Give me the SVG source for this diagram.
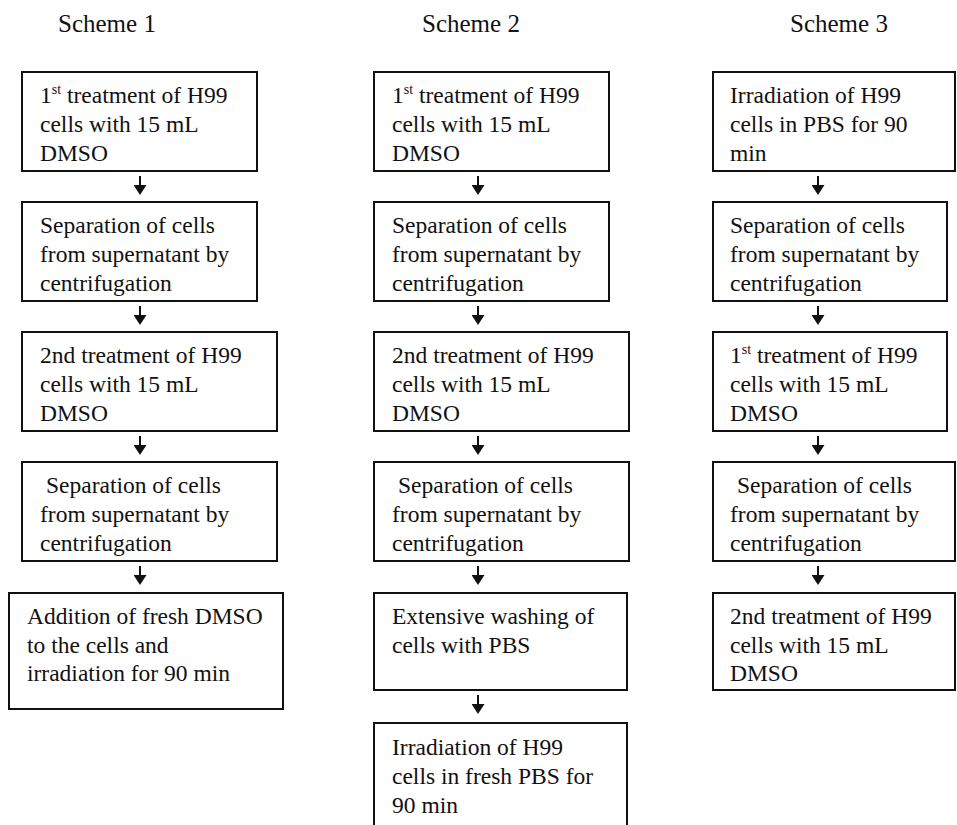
<svg xmlns="http://www.w3.org/2000/svg" width="957" height="825" viewBox="0 0 957 825">
<style>
.bg{fill:#fff}
.box{fill:#fff;stroke:#111;stroke-width:2}
.t{font-family:"Liberation Serif","Times New Roman",serif;font-size:23.5px;fill:#111}
.title{font-family:"Liberation Serif","Times New Roman",serif;font-size:25px;fill:#111}
.sup{font-size:14px}
.conn line{stroke:#111;stroke-width:2}
</style>
<defs>
<marker id="ah" markerUnits="userSpaceOnUse" viewBox="0 0 10 13" markerWidth="10" markerHeight="13" refX="1" refY="6.5" orient="auto">
<path d="M0,0 L10,6.5 L0,13 z" fill="#111"/>
</marker>
</defs>
<rect class="bg" x="0" y="0" width="957" height="825"/>

<g id="titles">
<text class="title" x="58" y="32">Scheme 1</text>
<text class="title" x="422" y="32">Scheme 2</text>
<text class="title" x="790" y="32">Scheme 3</text>
</g>

<!-- Scheme 1 -->
<g id="s1n1">
<rect class="box" x="22" y="72" width="235" height="99"/>
<text class="t" x="40" y="103">1<tspan class="sup" dy="-9">st</tspan><tspan dy="9"> treatment of H99</tspan></text>
<text class="t" x="40" y="132">cells with 15 mL</text>
<text class="t" x="40" y="161">DMSO</text>
</g>
<g id="s1n2">
<rect class="box" x="22" y="202" width="235" height="99"/>
<text class="t" x="40" y="233">Separation of cells</text>
<text class="t" x="40" y="262">from supernatant by</text>
<text class="t" x="40" y="291">centrifugation</text>
</g>
<g id="s1n3">
<rect class="box" x="22" y="332" width="255" height="99"/>
<text class="t" x="40" y="363">2nd treatment of H99</text>
<text class="t" x="40" y="392">cells with 15 mL</text>
<text class="t" x="40" y="421">DMSO</text>
</g>
<g id="s1n4">
<rect class="box" x="22" y="462" width="255" height="99"/>
<text class="t" x="46" y="493">Separation of cells</text>
<text class="t" x="40" y="522">from supernatant by</text>
<text class="t" x="40" y="551">centrifugation</text>
</g>
<g id="s1n5">
<rect class="box" x="9" y="593" width="274" height="116"/>
<text class="t" x="27" y="624">Addition of fresh DMSO</text>
<text class="t" x="27" y="653">to the cells and</text>
<text class="t" x="27" y="681">irradiation for 90 min</text>
</g>

<!-- Scheme 2 -->
<g id="s2n1">
<rect class="box" x="374" y="72" width="235" height="99"/>
<text class="t" x="392" y="103">1<tspan class="sup" dy="-9">st</tspan><tspan dy="9"> treatment of H99</tspan></text>
<text class="t" x="392" y="132">cells with 15 mL</text>
<text class="t" x="392" y="161">DMSO</text>
</g>
<g id="s2n2">
<rect class="box" x="374" y="202" width="235" height="99"/>
<text class="t" x="392" y="233">Separation of cells</text>
<text class="t" x="392" y="262">from supernatant by</text>
<text class="t" x="392" y="291">centrifugation</text>
</g>
<g id="s2n3">
<rect class="box" x="374" y="332" width="255" height="99"/>
<text class="t" x="392" y="363">2nd treatment of H99</text>
<text class="t" x="392" y="392">cells with 15 mL</text>
<text class="t" x="392" y="421">DMSO</text>
</g>
<g id="s2n4">
<rect class="box" x="374" y="462" width="255" height="99"/>
<text class="t" x="398" y="493">Separation of cells</text>
<text class="t" x="392" y="522">from supernatant by</text>
<text class="t" x="392" y="551">centrifugation</text>
</g>
<g id="s2n5">
<rect class="box" x="374" y="593" width="253" height="97"/>
<text class="t" x="392" y="624">Extensive washing of</text>
<text class="t" x="392" y="653">cells with PBS</text>
</g>
<g id="s2n6">
<rect class="box" x="374" y="723" width="253" height="110"/>
<text class="t" x="392" y="755">Irradiation of H99</text>
<text class="t" x="392" y="784">cells in fresh PBS for</text>
<text class="t" x="392" y="813">90 min</text>
</g>

<!-- Scheme 3 -->
<g id="s3n1">
<rect class="box" x="713" y="72" width="242" height="99"/>
<text class="t" x="730" y="103">Irradiation of H99</text>
<text class="t" x="730" y="132">cells in PBS for 90</text>
<text class="t" x="730" y="161">min</text>
</g>
<g id="s3n2">
<rect class="box" x="713" y="202" width="234" height="99"/>
<text class="t" x="730" y="233">Separation of cells</text>
<text class="t" x="730" y="262">from supernatant by</text>
<text class="t" x="730" y="291">centrifugation</text>
</g>
<g id="s3n3">
<rect class="box" x="713" y="332" width="234" height="99"/>
<text class="t" x="730" y="363">1<tspan class="sup" dy="-9">st</tspan><tspan dy="9"> treatment of H99</tspan></text>
<text class="t" x="730" y="392">cells with 15 mL</text>
<text class="t" x="730" y="421">DMSO</text>
</g>
<g id="s3n4">
<rect class="box" x="713" y="462" width="242" height="99"/>
<text class="t" x="737" y="493">Separation of cells</text>
<text class="t" x="730" y="522">from supernatant by</text>
<text class="t" x="730" y="551">centrifugation</text>
</g>
<g id="s3n5">
<rect class="box" x="713" y="593" width="242" height="97"/>
<text class="t" x="730" y="624">2nd treatment of H99</text>
<text class="t" x="730" y="653">cells with 15 mL</text>
<text class="t" x="730" y="681">DMSO</text>
</g>

<g id="connectors" class="conn">
<line x1="140" y1="176" x2="140" y2="186" marker-end="url(#ah)"/>
<line x1="140" y1="306" x2="140" y2="316" marker-end="url(#ah)"/>
<line x1="140" y1="436" x2="140" y2="446" marker-end="url(#ah)"/>
<line x1="140" y1="566" x2="140" y2="576" marker-end="url(#ah)"/>

<line x1="478" y1="176" x2="478" y2="186" marker-end="url(#ah)"/>
<line x1="478" y1="306" x2="478" y2="316" marker-end="url(#ah)"/>
<line x1="478" y1="436" x2="478" y2="446" marker-end="url(#ah)"/>
<line x1="478" y1="566" x2="478" y2="576" marker-end="url(#ah)"/>
<line x1="478" y1="695" x2="478" y2="705" marker-end="url(#ah)"/>

<line x1="818" y1="176" x2="818" y2="186" marker-end="url(#ah)"/>
<line x1="818" y1="306" x2="818" y2="316" marker-end="url(#ah)"/>
<line x1="818" y1="436" x2="818" y2="446" marker-end="url(#ah)"/>
<line x1="818" y1="566" x2="818" y2="576" marker-end="url(#ah)"/>
</g>
</svg>
